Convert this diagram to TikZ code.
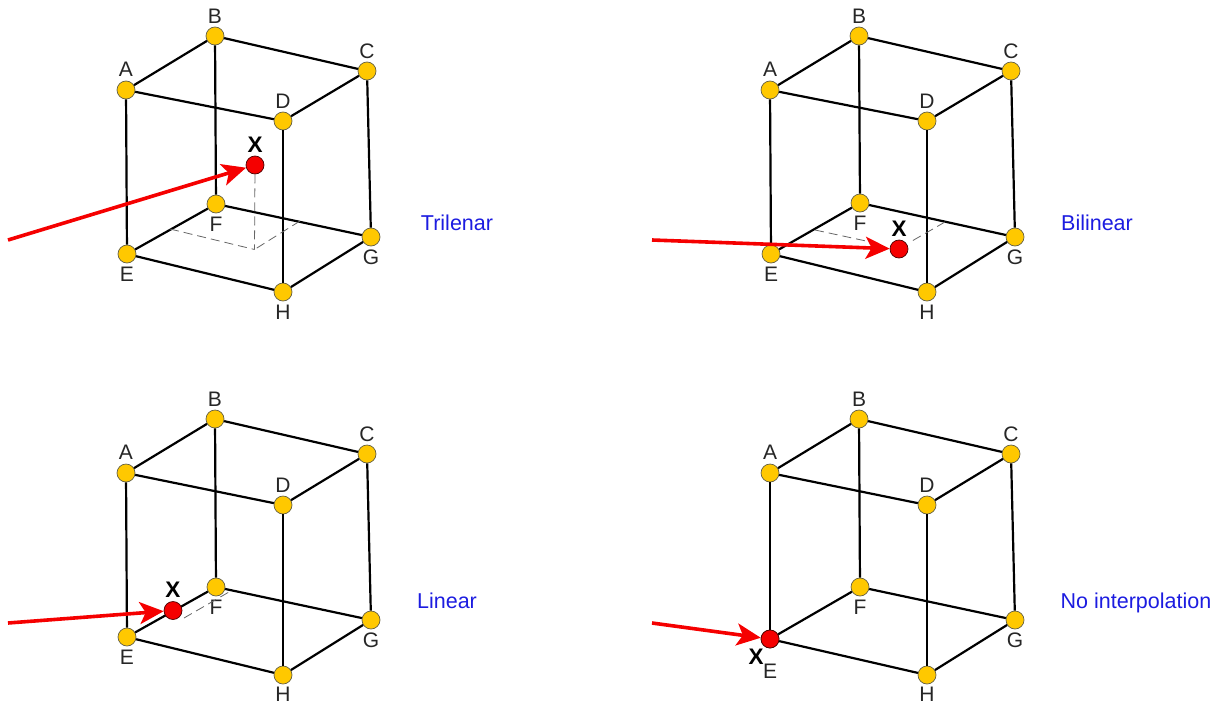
\documentclass[tikz,border=0pt]{standalone}
\usepackage{fontspec}
\setmainfont{Liberation Sans}
\usetikzlibrary{arrows.meta}
\definecolor{vyellow}{HTML}{FFC800}
\definecolor{vred}{HTML}{F50000}
\definecolor{vblue}{HTML}{1C1CE0}
\tikzset{
  vertex/.style={circle,draw=black!70!yellow,line width=0.7pt,fill=vyellow,minimum size=18pt,inner sep=0pt},
  vlabel/.style={inner sep=0pt,text=black!85,font=\fontsize{21}{22}\selectfont},
  xpoint/.style={circle,draw=black!70!red,line width=0.7pt,fill=vred,minimum size=18pt,inner sep=0pt},
  xlabel/.style={inner sep=0pt,font=\fontsize{22.5}{23}\selectfont\bfseries},
  edge/.style={line width=2.2pt,black},
  guide/.style={line width=0.8pt,black!60,dash pattern=on 9pt off 5pt},
  pointer/.style={line width=3.6pt,vred,-{Stealth[length=24pt,width=22pt,inset=6pt]}},
  caption/.style={inner sep=0pt,text=vblue,anchor=base,font=\fontsize{21.5}{22}\selectfont},
}
\newcommand\cubeframe[2]{%
  \foreach \n/\vx/\vy/\d in {#2} {
    \node[vertex] (#1\n) at (\vx,\vy) {};
    \node[vlabel] (#1\n l) at (\vx,\vy+\d) {\n};
  }
  \draw[edge] (#1A)--(#1B); \draw[edge] (#1B)--(#1C);
  \draw[edge] (#1C)--(#1D); \draw[edge] (#1D)--(#1A);
  \draw[edge] (#1E)--(#1F); \draw[edge] (#1F)--(#1G);
  \draw[edge] (#1G)--(#1H); \draw[edge] (#1H)--(#1E);
  \draw[edge] (#1A)--(#1E); \draw[edge] (#1B)--(#1F);
  \draw[edge] (#1C)--(#1G); \draw[edge] (#1D)--(#1H);
}
\begin{document}
\begin{tikzpicture}[x=1pt,y=-1pt]
\useasboundingbox (0,0) rectangle (1217,704);
% Trilinear
\cubeframe{p}{A/126/90/-21,B/215/36/-20,C/367/71/-20,D/283/121/-20,E/127/254/20,F/216/204/20,G/371/237/20,H/283/292/20}
\coordinate (pbase) at (254.5,249.5);
\coordinate (pef) at (170,229);
\coordinate (pfg) at (300,221);
\node[xpoint] (pX) at (255,165) {};
\node[xlabel] (pXl) at (255,145) {X};
\draw[guide] (pX)--(pbase);
\draw[guide] (pef)--(pbase);
\draw[guide] (pfg)--(pbase);
\coordinate (pstart) at (8,240);
\draw[pointer] (pstart)--(pX);
\node[caption] (pcap) at (457,230.5) {Trilenar};
% Bilinear
\cubeframe{q}{A/770/90/-21,B/859/36/-20,C/1011/71/-20,D/927/121/-20,E/771/254/20,F/860/203/20,G/1015/237/20,H/927/292/20}
\coordinate (qef) at (815,230);
\coordinate (qfg) at (945,222);
\coordinate (qxe) at (880,244);
\coordinate (qxg) at (912,241);
\node[xpoint] (qX) at (899,249) {};
\node[xlabel] (qXl) at (899,229) {X};
\draw[guide] (qef)--(qxe);
\draw[guide] (qfg)--(qxg);
\coordinate (qstart) at (652,240);
\draw[pointer] (qstart)--(qX);
\node[caption] (qcap) at (1097,230.5) {Bilinear};
% Linear
\cubeframe{r}{A/126/473/-21,B/215/419/-20,C/367/454/-20,D/283/505/-20,E/127/637/20,F/216/587/20,G/371/620/20,H/283/675/19}
\coordinate (rfg) at (229,592);
\coordinate (rxf) at (184,618);
\node[xpoint] (rX) at (173,610.5) {};
\node[xlabel] (rXl) at (173,590) {X};
\draw[guide] (rxf)--(rfg);
\coordinate (rstart) at (8,623);
\draw[pointer] (rstart)--(rX);
\node[caption] (rcap) at (447,608.5) {Linear};
% No interpolation
\cubeframe{s}{A/770/473/-21,B/859/419/-20,C/1011/454/-20,D/927/505/-20,E/770/639/32,F/860/587/20,G/1015/620/20,H/927/675/19}
\node[xpoint] (sX) at (770,639) {};
\node[xlabel] (sXl) at (756,657) {X};
\coordinate (sstart) at (652,623);
\draw[pointer] (sstart)--(sX);
\node[caption] (scap) at (1136,608.5) {No interpolation};
\end{tikzpicture}
\end{document}
